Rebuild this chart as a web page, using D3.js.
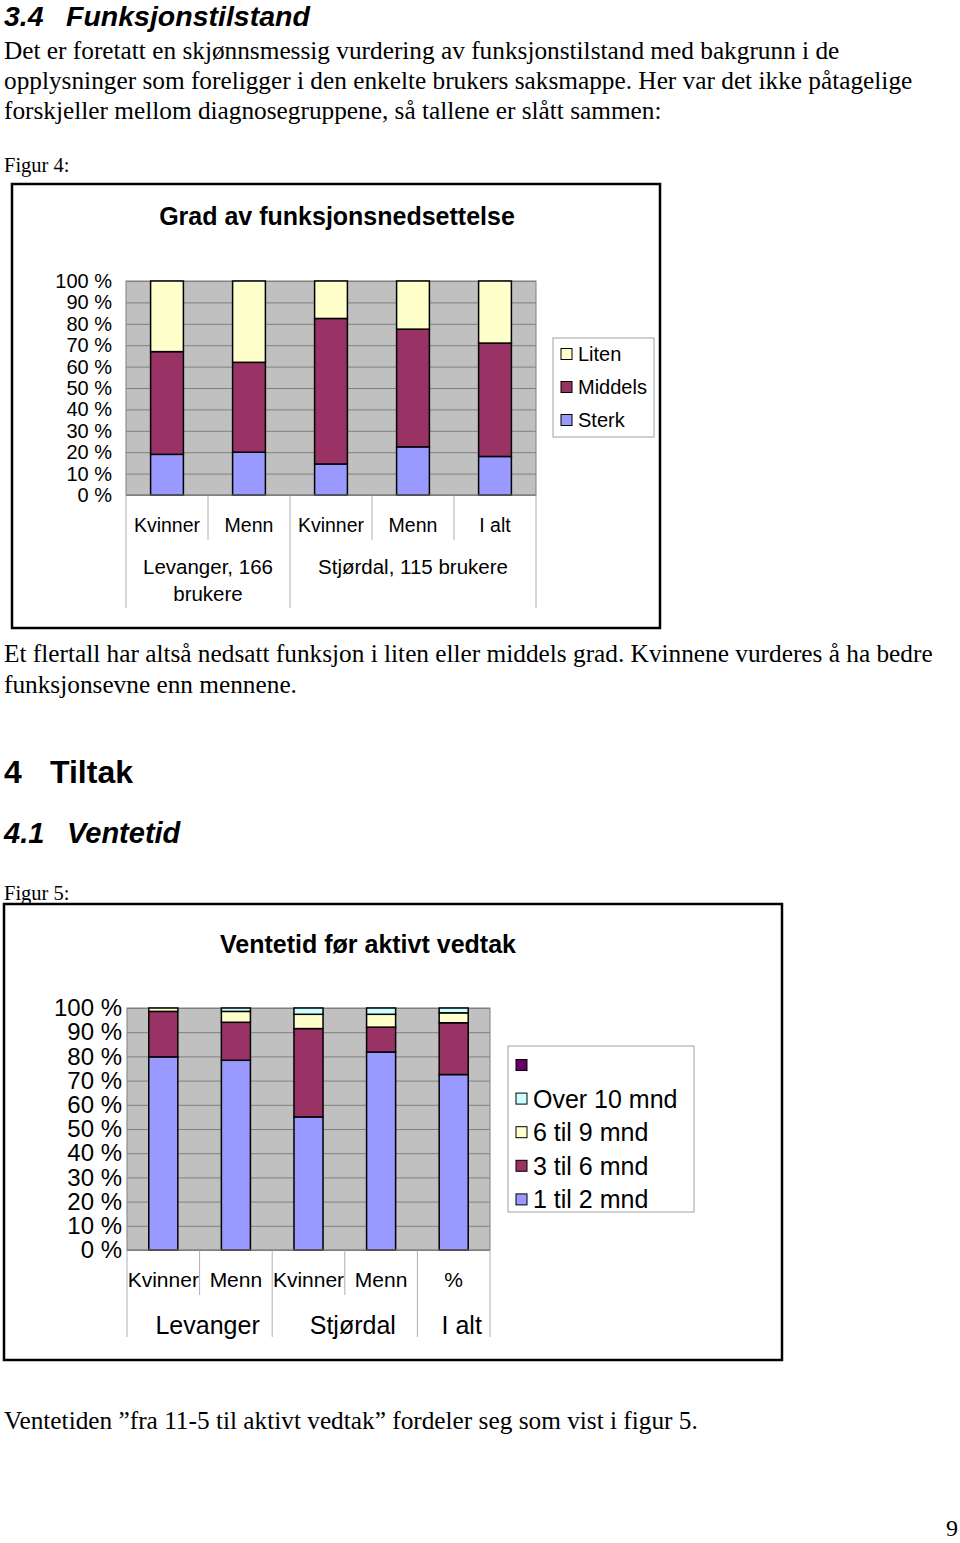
<!DOCTYPE html>
<html><head><meta charset="utf-8">
<script src="https://cdn.jsdelivr.net/npm/d3@7"></script>
<style>html,body{margin:0;padding:0;background:#fff}svg{display:block}</style>
</head><body>
<script>
// ---------- data ----------
const yTicks = [0,10,20,30,40,50,60,70,80,90,100];

const cats1 = ["Kvinner","Menn","Kvinner","Menn","I alt"];
const groups1 = [{lines:["Levanger, 166","brukere"], from:0, to:2},{lines:["Stjørdal, 115 brukere"], from:2, to:5}];
const keys1 = ["Sterk","Middels","Liten"];
const sterk   = [19, 20, 14.5, 22.5, 18];
const middels = [48, 42, 68, 55, 53];
const liten   = [33, 38, 17.5, 22.5, 29];

const cats2 = ["Kvinner","Menn","Kvinner","Menn","%"];
const groups2 = [{lines:["Levanger"], from:0, to:2},{lines:["Stjørdal"], from:2, to:4},{lines:["I alt"], from:4, to:5}];
const keys2 = ["1 til 2 mnd","3 til 6 mnd","6 til 9 mnd","Over 10 mnd",""];
const m1til2  = [79.8, 78.4, 55.0, 81.8, 72.5];
const m3til6  = [18.8, 15.7, 36.5, 10.3, 21.4];
const m6til9  = [1.4, 4.5, 5.9, 5.3, 4.1];
const over10  = [0, 1.4, 2.6, 2.6, 2.0];
const ukjent  = [0, 0, 0, 0, 0];

const colors1 = {"Sterk":"#9999ff","Middels":"#993366","Liten":"#ffffcc"};
const colors2 = {"1 til 2 mnd":"#9999ff","3 til 6 mnd":"#993366","6 til 9 mnd":"#ffffcc","Over 10 mnd":"#ccffff","":"#660066"};

// ---------- page ----------
const W=960,H=1543;
const svg=d3.select("body").append("svg").attr("width",W).attr("height",H);
svg.append("rect").attr("width",W).attr("height",H).attr("fill","#fff");

const sans="Liberation Sans, Arial, sans-serif";
const serif="Liberation Serif, Times New Roman, serif";
const bodyFs=25.3;
function txt(x,y,s,opt={}){
  return svg.append("text").attr("x",x).attr("y",y).text(s)
   .attr("font-family",opt.ff||serif).attr("font-size",opt.fs||bodyFs)
   .attr("font-weight",opt.fw||"normal").attr("font-style",opt.fst||"normal")
   .attr("text-anchor",opt.anchor||"start").attr("fill","#000");
}
// heading 3.4
txt(4,26,"3.4",{ff:sans,fs:28.5,fw:"bold",fst:"italic"});
txt(66,26,"Funksjonstilstand",{ff:sans,fs:28.5,fw:"bold",fst:"italic"});
txt(4,59,"Det er foretatt en skjønnsmessig vurdering av funksjonstilstand med bakgrunn i de");
txt(4,89,"opplysninger som foreligger i den enkelte brukers saksmappe. Her var det ikke påtagelige");
txt(4,119,"forskjeller mellom diagnosegruppene, så tallene er slått sammen:");
txt(4,172,"Figur 4:",{fs:20.5});

txt(4,662,"Et flertall har altså nedsatt funksjon i liten eller middels grad. Kvinnene vurderes å ha bedre");
txt(4,693,"funksjonsevne enn mennene.");
txt(4,783,"4",{ff:sans,fs:32,fw:"bold"});
txt(50,783,"Tiltak",{ff:sans,fs:32,fw:"bold"});
txt(4,843,"4.1",{ff:sans,fs:29,fw:"bold",fst:"italic"});
txt(67,843,"Ventetid",{ff:sans,fs:29,fw:"bold",fst:"italic"});
txt(4,900,"Figur 5:",{fs:20.5});
txt(4,1429,"Ventetiden ”fra 11-5 til aktivt vedtak” fordeler seg som vist i figur 5.");
txt(958,1536,"9",{fs:24,anchor:"end"});

// ---------- generic chart ----------
function chart(cfg){
  const g=svg.append("g");
  g.append("rect").attr("x",cfg.frame[0]).attr("y",cfg.frame[1])
    .attr("width",cfg.frame[2]-cfg.frame[0]).attr("height",cfg.frame[3]-cfg.frame[1])
    .attr("fill","#fff").attr("stroke","#000").attr("stroke-width",2.5);
  g.append("text").attr("x",cfg.titleX).attr("y",cfg.titleY).text(cfg.title)
    .attr("font-family",sans).attr("font-size",cfg.titleFs).attr("font-weight","bold").attr("text-anchor","middle");

  const [x0,x1,yTop,yBot]=cfg.plot;
  const y=d3.scaleLinear().domain([0,100]).range([yBot,yTop]);
  const x=d3.scaleBand().domain(d3.range(cfg.cats.length)).range([x0,x1]).padding(0);
  const bw=x.bandwidth()*0.4;

  g.append("rect").attr("x",x0).attr("y",yTop).attr("width",x1-x0).attr("height",yBot-yTop)
    .attr("fill","#c0c0c0").attr("stroke","#808080").attr("stroke-width",1);
  g.append("g").attr("transform",`translate(${x0},0)`)
    .call(d3.axisLeft(y).tickValues(yTicks).tickSize(-(x1-x0)).tickFormat(""))
    .call(a=>a.select(".domain").remove())
    .call(a=>a.selectAll("line").attr("stroke","#808080").attr("stroke-width",1));
  g.append("g").attr("transform",`translate(${x0},0)`)
    .call(d3.axisLeft(y).tickValues(yTicks).tickSize(0).tickPadding(cfg.tickPad).tickFormat(d=>d+" %"))
    .call(a=>a.select(".domain").remove())
    .call(a=>a.selectAll("text").attr("font-family",sans).attr("font-size",cfg.tickFs).attr("fill","#000"));

  const table=cfg.cats.map((c,i)=>{const o={i};cfg.keys.forEach((k,j)=>o[k]=cfg.series[j][i]);return o;});
  const stack=d3.stack().keys(cfg.keys)(table);
  stack.forEach(layer=>{
    g.append("g").selectAll("rect").data(layer.filter(d=>d[1]-d[0]>0)).join("rect")
      .attr("x",d=>x(d.data.i)+(x.bandwidth()-bw)/2).attr("width",bw)
      .attr("y",d=>y(d[1])).attr("height",d=>y(d[0])-y(d[1]))
      .attr("fill",cfg.colors[layer.key]).attr("stroke","#000").attr("stroke-width",1.5);
  });

  const bounds=d3.range(cfg.cats.length+1);
  const groupEdges=new Set();cfg.groups.forEach(gr=>{groupEdges.add(gr.from);groupEdges.add(gr.to);});
  bounds.forEach(b=>{
    const xx=b<cfg.cats.length?x(b):x1;
    g.append("line").attr("x1",xx).attr("x2",xx).attr("y1",yBot)
     .attr("y2",groupEdges.has(b)?cfg.longSep:cfg.shortSep).attr("stroke","#b0b0b0").attr("stroke-width",1);
  });
  g.append("line").attr("x1",x0).attr("x2",x1).attr("y1",yBot).attr("y2",yBot).attr("stroke","#808080");
  cfg.cats.forEach((c,i)=>{
    g.append("text").attr("x",x(i)+x.bandwidth()/2).attr("y",cfg.catY).text(c)
     .attr("font-family",sans).attr("font-size",cfg.catFs).attr("text-anchor","middle");
  });
  cfg.groups.forEach(gr=>{
    const cx=(x(gr.from)+(gr.to<cfg.cats.length?x(gr.to):x1))/2+cfg.groupDx;
    gr.lines.forEach((l,k)=>{
      g.append("text").attr("x",cx).attr("y",cfg.groupY+k*cfg.groupLH).text(l)
       .attr("font-family",sans).attr("font-size",cfg.groupFs).attr("text-anchor","middle");
    });
  });

  const L=cfg.legend;
  g.append("rect").attr("x",L.box[0]).attr("y",L.box[1]).attr("width",L.box[2]-L.box[0]).attr("height",L.box[3]-L.box[1])
    .attr("fill","#fff").attr("stroke","#a0a0a0").attr("stroke-width",1);
  L.items.forEach((k,j)=>{
    const cy=L.y0+j*L.dy;
    g.append("rect").attr("x",L.sx).attr("y",cy-L.sq/2).attr("width",L.sq).attr("height",L.sq)
      .attr("fill",cfg.colors[k]).attr("stroke","#000").attr("stroke-width",1);
    g.append("text").attr("x",L.tx).attr("y",cy).attr("dy","0.36em").text(k)
      .attr("font-family",sans).attr("font-size",L.fs);
  });
}

chart({
  frame:[12,184,660,628], title:"Grad av funksjonsnedsettelse", titleX:337, titleY:225, titleFs:25,
  plot:[126,536,281,495], tickPad:14, tickFs:20,
  cats:cats1, groups:groups1, keys:keys1, series:[sterk,middels,liten], colors:colors1,
  catY:532, catFs:19.5, groupY:574, groupLH:27, groupFs:20.5, groupDx:0, shortSep:540, longSep:608,
  legend:{box:[553,338,654,437], items:["Liten","Middels","Sterk"], y0:354, dy:33, sx:561, sq:11, tx:578, fs:20}
});

chart({
  frame:[4,904,782,1360], title:"Ventetid før aktivt vedtak", titleX:368, titleY:953, titleFs:25,
  plot:[127,490,1008,1250], tickPad:5, tickFs:24,
  cats:cats2, groups:groups2, keys:keys2, series:[m1til2,m3til6,m6til9,over10,ukjent], colors:colors2,
  catY:1287, catFs:21, groupY:1334, groupLH:0, groupFs:25, groupDx:8, shortSep:1295, longSep:1337,
  legend:{box:[508,1046,694,1212], items:["","Over 10 mnd","6 til 9 mnd","3 til 6 mnd","1 til 2 mnd"], y0:1065, dy:33.6, sx:516, sq:11, tx:533, fs:25}
});
</script>
</body></html>
